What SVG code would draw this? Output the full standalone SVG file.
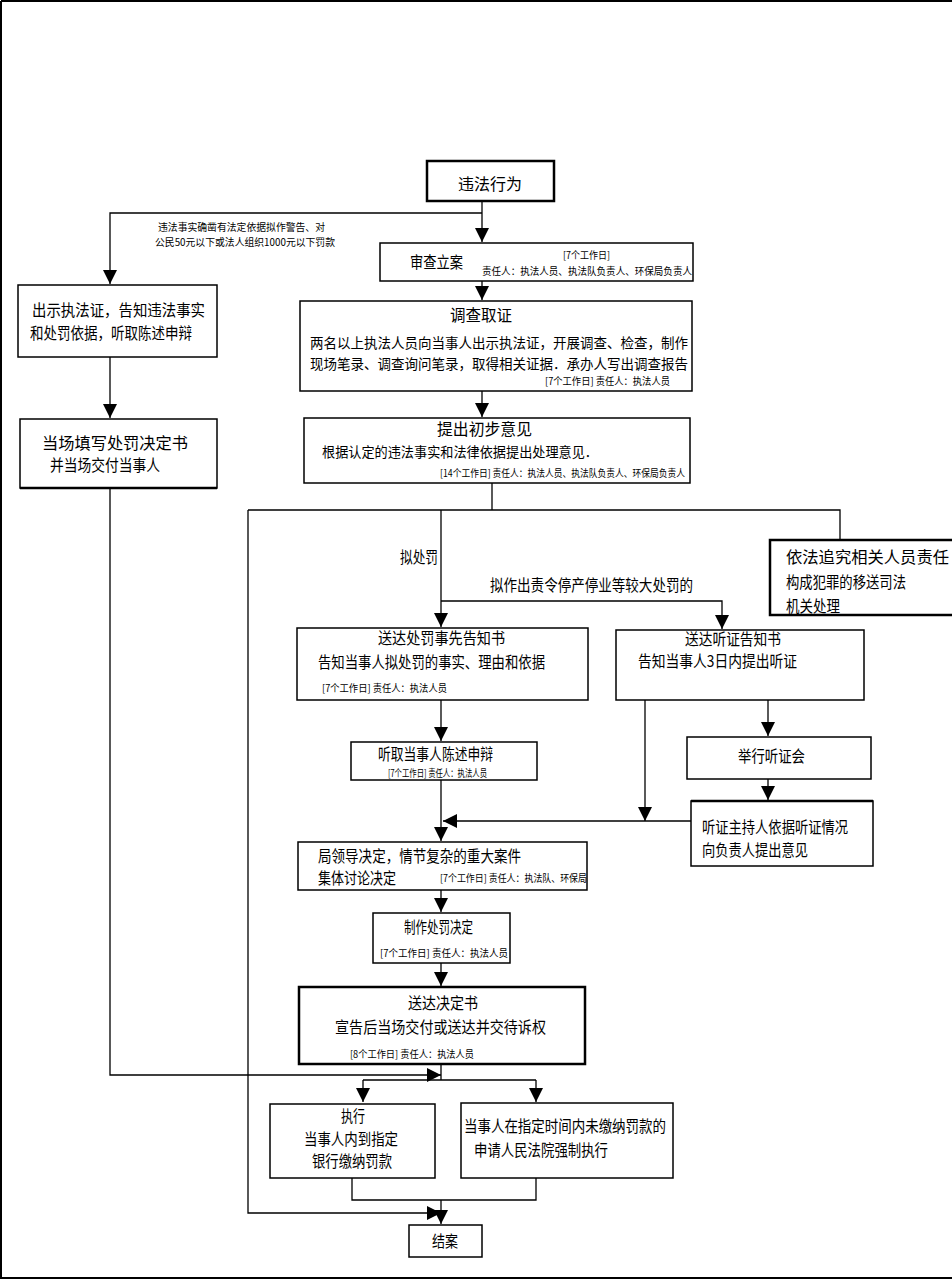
<svg xmlns="http://www.w3.org/2000/svg" width="952" height="1280" viewBox="0 0 952 1280">
<defs>
<marker id="ah" markerUnits="userSpaceOnUse" markerWidth="14" markerHeight="14" viewBox="0 0 10 10" refX="10" refY="5" orient="auto">
<path d="M0,0 L10,5 L0,10 z" fill="#000"/>
</marker>
<style>
.box{fill:#fff;stroke:#000;stroke-width:1.5}
.thick{stroke-width:2.5}
.t{font-family:"Noto Sans CJK SC","Liberation Sans",sans-serif;font-size:16px;fill:#000}
.m{font-family:"Noto Sans CJK SC","Liberation Sans",sans-serif;font-size:14px;fill:#000}
.s{font-family:"Noto Sans CJK SC","Liberation Sans",sans-serif;font-size:10px;fill:#000}
.c{fill:none;stroke:#000;stroke-width:1.3}
.a{marker-end:url(#ah)}
</style>
</defs>
<rect x="0" y="0" width="952" height="1280" fill="#fff"/>
<path d="M1,1 H952 M1,1 V1278 H952" fill="none" stroke="#000" stroke-width="2"/>

<g id="connectors">
<path class="c a" d="M482,201 V242"/>
<path class="c a" d="M482,213 H110 V284"/>
<path class="c a" d="M482,281 V300"/>
<path class="c a" d="M482,391 V417"/>
<path class="c a" d="M110,357 V418"/>
<path class="c a" d="M110,488 V1075 H441"/>
<path class="c" d="M492,483 V510"/>
<path class="c" d="M248,510 H840 V540"/>
<path class="c a" d="M248,510 V1213 H441"/>
<path class="c a" d="M441,510 V627"/>
<path class="c a" d="M441,601 H722 V629"/>
<path class="c a" d="M441,700 V741"/>
<path class="c a" d="M645,700 V821"/>
<path class="c a" d="M768,700 V736"/>
<path class="c a" d="M768,779 V800"/>
<path class="c a" d="M691,821 H443" stroke-width="2"/>
<path class="c a" d="M441,780 V841"/>
<path class="c a" d="M441,890 V912"/>
<path class="c a" d="M441,963 V986"/>
<path class="c" d="M441,1064 V1080 M363,1080 H536"/>
<path class="c a" d="M363,1080 V1102"/>
<path class="c a" d="M536,1080 V1102"/>
<path class="c" d="M352,1178 V1200 H536 V1178"/>
<path class="c a" d="M441,1200 V1224"/>
<text class="s" x="158" y="231" textLength="167" lengthAdjust="spacingAndGlyphs">违法事实确凿有法定依据拟作警告、对</text>
<text class="s" x="155" y="246" textLength="180" lengthAdjust="spacingAndGlyphs">公民50元以下或法人组织1000元以下罚款</text>
<text class="t" x="400" y="563" textLength="38" lengthAdjust="spacingAndGlyphs">拟处罚</text>
<text class="t" x="490" y="591" textLength="203" lengthAdjust="spacingAndGlyphs">拟作出责令停产停业等较大处罚的</text>
</g>

<g id="n1">
<rect class="box thick" x="427" y="161" width="127" height="40"/>
<text class="t" x="458" y="190" textLength="64" lengthAdjust="spacingAndGlyphs">违法行为</text>
</g>

<g id="n2">
<rect class="box" x="380" y="243" width="313" height="38"/>
<text class="t" x="410" y="268" textLength="53" lengthAdjust="spacingAndGlyphs">审查立案</text>
<text class="s" x="563" y="259" textLength="47" lengthAdjust="spacingAndGlyphs">[7个工作日]</text>
<text class="s" x="482" y="275" textLength="210" lengthAdjust="spacingAndGlyphs">责任人：执法人员、执法队负责人、环保局负责人</text>
</g>

<g id="n3">
<rect class="box" x="300" y="301" width="392" height="90"/>
<text class="t" x="450" y="321" textLength="62" lengthAdjust="spacingAndGlyphs">调查取证</text>
<text class="m" x="310" y="348" textLength="378" lengthAdjust="spacingAndGlyphs">两名以上执法人员向当事人出示执法证，开展调查、检查，制作</text>
<text class="m" x="310" y="369" textLength="378" lengthAdjust="spacingAndGlyphs">现场笔录、调查询问笔录，取得相关证据．承办人写出调查报告</text>
<text class="s" x="545" y="385" textLength="125" lengthAdjust="spacingAndGlyphs">[7个工作日]  责任人：执法人员</text>
</g>

<g id="n4">
<rect class="box" x="304" y="418" width="386" height="65"/>
<text class="t" x="437" y="435" textLength="95" lengthAdjust="spacingAndGlyphs">提出初步意见</text>
<text class="m" x="322" y="457" textLength="276" lengthAdjust="spacingAndGlyphs">根据认定的违法事实和法律依据提出处理意见．</text>
<text class="s" x="440" y="477" textLength="245" lengthAdjust="spacingAndGlyphs">[14个工作日]  责任人：执法人员、执法队负责人、环保局负责人</text>
</g>

<g id="n5">
<rect class="box" x="18" y="285" width="199" height="72"/>
<text class="t" x="32" y="316" textLength="173" lengthAdjust="spacingAndGlyphs">出示执法证，告知违法事实</text>
<text class="t" x="30" y="339" textLength="162" lengthAdjust="spacingAndGlyphs">和处罚依据，听取陈述申辩</text>
</g>

<g id="n6">
<rect class="box" x="20" y="419" width="197" height="69"/>
<path d="M20,488 H217" stroke="#000" stroke-width="2.5"/>
<text class="t" x="42" y="449" textLength="146" lengthAdjust="spacingAndGlyphs">当场填写处罚决定书</text>
<text class="t" x="50" y="471" textLength="110" lengthAdjust="spacingAndGlyphs">并当场交付当事人</text>
</g>

<g id="n7">
<rect class="box thick" x="770" y="540" width="184" height="75"/>
<text class="t" x="786" y="563" textLength="163" lengthAdjust="spacingAndGlyphs">依法追究相关人员责任</text>
<text class="t" x="786" y="588" textLength="120" lengthAdjust="spacingAndGlyphs">构成犯罪的移送司法</text>
<text class="t" x="786" y="612" textLength="54" lengthAdjust="spacingAndGlyphs">机关处理</text>
</g>

<g id="n8">
<rect class="box" x="297" y="628" width="291" height="72"/>
<text class="t" x="378" y="644" textLength="127" lengthAdjust="spacingAndGlyphs">送达处罚事先告知书</text>
<text class="t" x="318" y="668" textLength="227" lengthAdjust="spacingAndGlyphs">告知当事人拟处罚的事实、理由和依据</text>
<text class="s" x="322" y="692" textLength="125" lengthAdjust="spacingAndGlyphs">[7个工作日]  责任人：执法人员</text>
</g>

<g id="n9">
<rect class="box" x="616" y="630" width="248" height="70"/>
<text class="t" x="685" y="645" textLength="96" lengthAdjust="spacingAndGlyphs">送达听证告知书</text>
<text class="t" x="638" y="667" textLength="159" lengthAdjust="spacingAndGlyphs">告知当事人3日内提出听证</text>
</g>

<g id="n10">
<rect class="box" x="351" y="742" width="186" height="38"/>
<text class="t" x="378" y="760" textLength="115" lengthAdjust="spacingAndGlyphs">听取当事人陈述申辩</text>
<text class="s" x="388" y="777" textLength="99" lengthAdjust="spacingAndGlyphs">[7个工作日]  责任人：执法人员</text>
</g>

<g id="n11">
<rect class="box" x="687" y="737" width="184" height="42"/>
<text class="t" x="738" y="762" textLength="67" lengthAdjust="spacingAndGlyphs">举行听证会</text>
</g>

<g id="n12">
<rect class="box" x="691" y="801" width="182" height="65"/>
<path d="M691,801 H873" stroke="#000" stroke-width="2.5"/>
<text class="t" x="702" y="833" textLength="146" lengthAdjust="spacingAndGlyphs">听证主持人依据听证情况</text>
<text class="t" x="702" y="856" textLength="106" lengthAdjust="spacingAndGlyphs">向负责人提出意见</text>
</g>

<g id="n13">
<rect class="box" x="298" y="842" width="289" height="48"/>
<text class="t" x="318" y="862" textLength="203" lengthAdjust="spacingAndGlyphs">局领导决定，情节复杂的重大案件</text>
<text class="t" x="318" y="884" textLength="78" lengthAdjust="spacingAndGlyphs">集体讨论决定</text>
<text class="s" x="440" y="882" textLength="147" lengthAdjust="spacingAndGlyphs">[7个工作日]  责任人：执法队、环保局</text>
</g>

<g id="n14">
<rect class="box" x="373" y="913" width="137" height="50"/>
<text class="t" x="404" y="933" textLength="69" lengthAdjust="spacingAndGlyphs">制作处罚决定</text>
<text class="s" x="380" y="957" textLength="128" lengthAdjust="spacingAndGlyphs">[7个工作日]  责任人：执法人员</text>
</g>

<g id="n15">
<rect class="box thick" x="299" y="987" width="286" height="77"/>
<text class="t" x="408" y="1009" textLength="70" lengthAdjust="spacingAndGlyphs">送达决定书</text>
<text class="t" x="335" y="1033" textLength="211" lengthAdjust="spacingAndGlyphs">宣告后当场交付或送达并交待诉权</text>
<text class="s" x="350" y="1058" textLength="124" lengthAdjust="spacingAndGlyphs">[8个工作日]  责任人：执法人员</text>
</g>

<g id="n16">
<rect class="box" x="270" y="1104" width="165" height="74"/>
<text class="t" x="341" y="1122" textLength="24" lengthAdjust="spacingAndGlyphs">执行</text>
<text class="t" x="304" y="1145" textLength="94" lengthAdjust="spacingAndGlyphs">当事人内到指定</text>
<text class="t" x="312" y="1167" textLength="80" lengthAdjust="spacingAndGlyphs">银行缴纳罚款</text>
</g>

<g id="n17">
<rect class="box" x="461" y="1103" width="212" height="75"/>
<text class="t" x="464" y="1132" textLength="202" lengthAdjust="spacingAndGlyphs">当事人在指定时间内未缴纳罚款的</text>
<text class="t" x="474" y="1156" textLength="134" lengthAdjust="spacingAndGlyphs">申请人民法院强制执行</text>
</g>

<g id="n18">
<rect class="box" x="409" y="1225" width="73" height="32"/>
<text class="t" x="432" y="1247" textLength="26" lengthAdjust="spacingAndGlyphs">结案</text>
</g>
</svg>
